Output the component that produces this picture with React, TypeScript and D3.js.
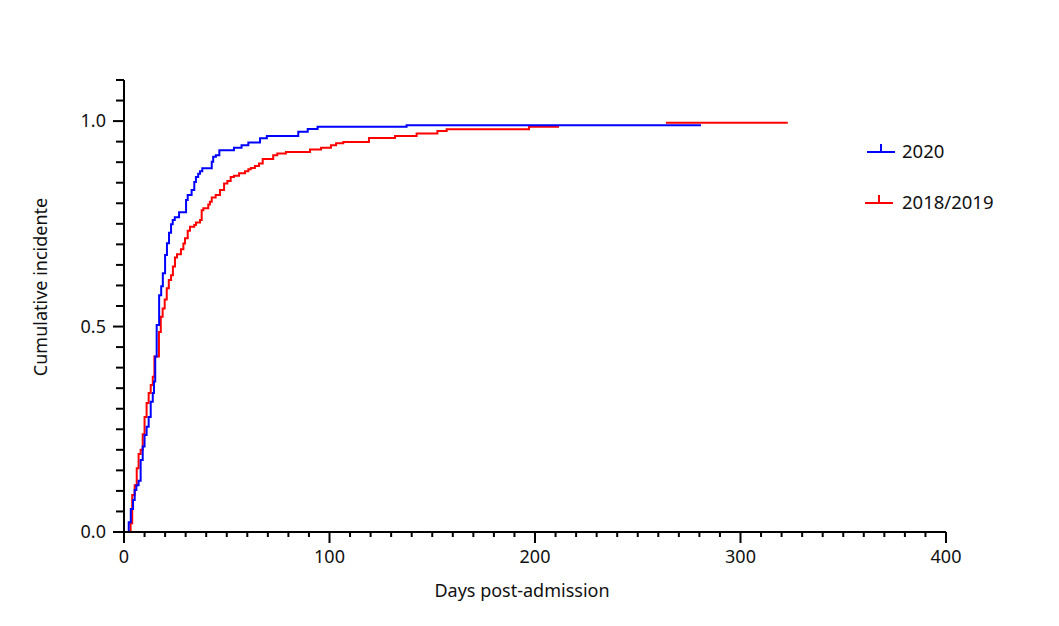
import * as d3 from 'd3';

// step points: day of event, cumulative incidence after it
const blueDays = [0, 2.3, 3.3, 4.4, 5.2, 6, 7.1, 8.1, 9.1, 10, 11, 12, 13, 14, 14.6, 15.2, 15.9, 17.1, 18.1, 18.9, 20, 20.9, 21.9, 22.9, 23.7, 24.7, 26.8, 30.2, 31, 32.9, 34.2, 35, 36.1, 37, 38.1, 42.7, 43.4, 44.7, 46.4, 53.5, 57.2, 60.5, 66.2, 69.5, 84.8, 89.4, 94.2, 137.5, 280.8];
const blueValues = [0, 0.024, 0.056, 0.078, 0.102, 0.114, 0.125, 0.175, 0.208, 0.236, 0.256, 0.28, 0.317, 0.338, 0.366, 0.427, 0.504, 0.576, 0.598, 0.63, 0.674, 0.703, 0.728, 0.749, 0.759, 0.766, 0.778, 0.808, 0.82, 0.832, 0.852, 0.864, 0.872, 0.878, 0.885, 0.901, 0.913, 0.917, 0.929, 0.935, 0.941, 0.948, 0.958, 0.964, 0.974, 0.981, 0.986, 0.99, 0.99];

const redDays = [0, 3.2, 4, 5.2, 6.2, 7.1, 8.1, 9.1, 10, 11, 12, 13, 14, 14.8, 17, 17.9, 18.8, 19.8, 20.8, 21.8, 22.9, 23.8, 24.8, 25.8, 27.7, 28.9, 29.7, 31, 32.1, 34.2, 35, 37, 37.8, 38.6, 41, 41.8, 42.7, 44.6, 46.7, 48.7, 50.3, 51.9, 53.5, 56, 58.9, 60.5, 61.7, 63.7, 65.7, 67.5, 72.6, 74.6, 78.8, 90.5, 95.9, 100.7, 103.2, 106.7, 119.2, 131.9, 142.4, 152.5, 157, 197.1, 211.7];
const redValues = [0, 0.021, 0.09, 0.114, 0.155, 0.19, 0.2, 0.238, 0.28, 0.314, 0.338, 0.358, 0.378, 0.427, 0.487, 0.524, 0.544, 0.566, 0.593, 0.613, 0.625, 0.646, 0.668, 0.676, 0.688, 0.702, 0.715, 0.733, 0.743, 0.747, 0.753, 0.759, 0.783, 0.788, 0.797, 0.804, 0.814, 0.82, 0.832, 0.848, 0.854, 0.864, 0.867, 0.873, 0.878, 0.883, 0.886, 0.891, 0.897, 0.908, 0.917, 0.921, 0.925, 0.931, 0.935, 0.941, 0.946, 0.949, 0.959, 0.964, 0.97, 0.976, 0.98, 0.986, 0.986];
const redTailDays = [263.7, 323];
const redTailValues = [0.996, 0.996];

const series = ['2020', '2018/2019'];
const colors = ['#0000ff', '#ff0000'];
const xMajor = [0, 100, 200, 300, 400];
const yMajor = [0, 0.5, 1.0];

const font = "'Noto Sans', sans-serif";

export default function App() {
  const x = d3.scaleLinear().domain([0, 400]).range([124, 946]);
  const y = d3.scaleLinear().domain([0, 1.1]).range([532, 80]);

  const line = d3.line<[number, number]>()
    .x(d => x(d[0]))
    .y(d => y(d[1]))
    .curve(d3.curveStepAfter);

  const zip = (a: number[], b: number[]) => a.map((v, i) => [v, b[i]] as [number, number]);
  const bluePath = line(zip(blueDays, blueValues)) as string;
  const redPath = line(zip(redDays, redValues)) as string;
  const redTail = line(zip(redTailDays, redTailValues)) as string;

  const xMinor = d3.range(0, 401, 10);
  const yMinor = d3.range(0, 23).map(i => i * 0.05);

  return (
    <div style={{ position: 'absolute', left: 0, top: 0 }}>
      <svg width={1059} height={626} style={{ display: 'block', background: '#fff' }}>
        {/* curves */}
        <g fill="none" strokeWidth={2}>
          <path d={redPath} stroke={colors[1]} />
          <path d={redTail} stroke={colors[1]} />
          <path d={bluePath} stroke={colors[0]} />
        </g>

        {/* axes */}
        <g stroke="#000" strokeWidth={2}>
          <line x1={x(0)} x2={x(400)} y1={y(0)} y2={y(0)} />
          <line x1={x(0)} x2={x(0)} y1={y(0)} y2={y(1.1)} />
          {xMinor.map(v => (
            <line key={'xm' + v} x1={x(v)} x2={x(v)} y1={y(0)} y2={y(0) + (v % 100 === 0 ? 11 : 5)} />
          ))}
          {yMinor.map((v, i) => (
            <line key={'ym' + i} x1={x(0) - (i % 10 === 0 ? 11 : 8)} x2={x(0)} y1={y(v)} y2={y(v)} />
          ))}
        </g>
        <g fontFamily={font} fontSize={18} fill="#111">
          {xMajor.map(v => (
            <text key={'xl' + v} x={x(v)} y={y(0) + 31} textAnchor="middle">{v}</text>
          ))}
          {yMajor.map(v => (
            <text key={'yl' + v} x={x(0) - 18} y={y(v) + 6} textAnchor="end">{v.toFixed(1)}</text>
          ))}
          <text x={522} y={597} textAnchor="middle">Days post-admission</text>
          <text transform="translate(47, 287) rotate(-90)" textAnchor="middle">Cumulative incidente</text>
        </g>

        {/* legend */}
        {series.map((s, i) => {
          const ly = 152 + i * 51;
          const lx = 867 - i * 2;
          return (
            <g key={s}>
              <line x1={lx} x2={lx + 28} y1={ly} y2={ly} stroke={colors[i]} strokeWidth={2} />
              <line x1={lx + 14} x2={lx + 14} y1={ly} y2={ly - 8} stroke={colors[i]} strokeWidth={2} />
              <text x={902} y={ly + 6} fontFamily={font} fontSize={18.5} fill="#111">{s}</text>
            </g>
          );
        })}
      </svg>
    </div>
  );
}
